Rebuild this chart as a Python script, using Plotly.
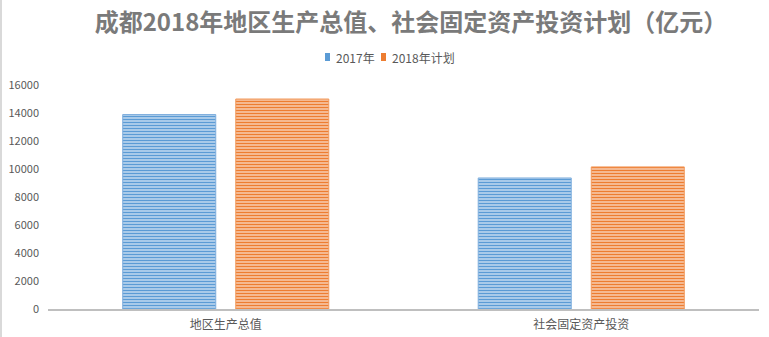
import plotly.graph_objects as go

categories = ["地区生产总值", "社会固定资产投资"]
series_names = ["2017年", "2018年计划"]
values_2017 = [13890, 9360]
values_2018 = [15000, 10150]
y_ticks = [0, 2000, 4000, 6000, 8000, 10000, 12000, 14000, 16000]

series_fg = ["#5B9BD5", "#ED7D31"]
series_bg = ["#E4EEF8", "#FCE6D8"]
series_edge = ["#7FAEDD", "#F29A5C"]

font_family = "Noto Sans CJK SC, Microsoft YaHei, sans-serif"
text_grey = "#595959"

# plot area in pixels, used to place the hand-drawn legend and border
PLOT_L, PLOT_R, PLOT_T, PLOT_B = 48, 759, 85, 309
W, H = 769, 337
pw, ph = PLOT_R - PLOT_L, PLOT_B - PLOT_T


def px_x(x):
    return (x - PLOT_L) / pw


def px_y(y):
    return (PLOT_B - y) / ph


fig = go.Figure()
for name, vals, fg, bg, edge in zip(series_names, [values_2017, values_2018],
                                    series_fg, series_bg, series_edge):
    fig.add_trace(go.Bar(
        name=name, x=categories, y=vals, showlegend=False,
        marker=dict(line=dict(color=edge, width=1),
                    pattern=dict(shape="-", size=3, solidity=0.62,
                                 fgcolor=fg, bgcolor=bg, fillmode="replace")),
    ))

fig.update_layout(
    width=W, height=H,
    margin=dict(l=PLOT_L, r=W - PLOT_R, t=PLOT_T, b=H - PLOT_B),
    paper_bgcolor="white", plot_bgcolor="white",
    barmode="group", bargap=0.364, bargroupgap=0.177,
    font=dict(family=font_family, color=text_grey, size=11),
    title=dict(
        text="<b>成都2018年地区生产总值、社会固定资产投资计划（亿元）</b>",
        x=411 / W, xanchor="center",
        y=1 - 23 / H, yanchor="middle",
        font=dict(family=font_family, size=24, color="#7A7A7A"),
    ),
    showlegend=False,
)

# legend: small swatches followed by labels
legend_items = [(325, 334, series_names[0], series_fg[0]),
                (381, 390, series_names[1], series_fg[1])]
for sx, tx, label, col in legend_items:
    fig.add_shape(type="rect", xref="paper", yref="paper",
                  x0=px_x(sx), x1=px_x(sx + 5), y0=px_y(61), y1=px_y(53),
                  fillcolor=col, line=dict(width=0), layer="above")
    fig.add_annotation(text=label, xref="paper", yref="paper",
                       x=px_x(tx), y=px_y(57), xanchor="left", yanchor="middle",
                       showarrow=False, font=dict(size=12, color=text_grey))

fig.update_yaxes(
    range=[0, 16000], tickvals=y_ticks, ticktext=[str(v) for v in y_ticks],
    showgrid=False, zeroline=False, showline=False, automargin=False,
    tickfont=dict(size=11, color=text_grey), ticks="", ticklabelstandoff=8,
)
fig.update_xaxes(
    showline=True, linecolor="#BFBFBF", linewidth=2, showgrid=False,
    automargin=False,
    tickfont=dict(size=12, color=text_grey), ticks="", ticklabelstandoff=4,
)
# thin border at the left edge of the chart
fig.add_shape(type="line", xref="paper", yref="paper",
              x0=px_x(1), x1=px_x(1), y0=px_y(H), y1=px_y(0),
              line=dict(color="#D9D9D9", width=2))

fig.write_html("out.html")
